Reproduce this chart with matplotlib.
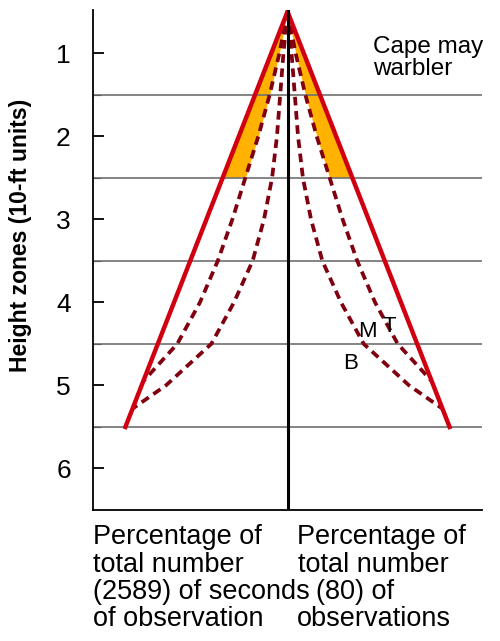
import numpy as np
import matplotlib.pyplot as plt

# height zones (10-ft units), y axis is inverted
zone_ticks = [1, 2, 3, 4, 5, 6]
zone_borders = [1.5, 2.5, 3.5, 4.5, 5.5]

# solid outline (T) : half width at each zone
t_zones = [0.5, 5.5]
t_width = [0.0, 1.0]

# dashed curve M (ends on the outline near zone 5)
m_zones = [0.5, 1.0, 1.5, 2.0, 2.5, 3.0, 3.5, 4.0, 4.5, 4.95]
m_width = [0.0, 0.05, 0.11, 0.18, 0.26, 0.34, 0.43, 0.54, 0.68, 0.89]

# dashed curve B (ends on the outline lower down)
b_zones = [0.5, 1.0, 1.5, 2.0, 2.5, 3.0, 3.5, 4.0, 4.5, 5.0, 5.28]
b_width = [0.0, 0.025, 0.045, 0.065, 0.095, 0.145, 0.215, 0.33, 0.47, 0.75, 0.956]

# orange band between outline and M, above zone 2.5
fill_zones = [0.5, 1.0, 1.5, 2.0, 2.5]

left_lines = ['Percentage of', 'total number', '(2589) of seconds', 'of observation']
right_lines = ['Percentage of', 'total number', '(80) of', 'observations']

red = '#D00010'
dark = '#80000F'
font = 'Liberation Sans'

fig = plt.figure(figsize=(5.0, 6.41), dpi=100)
ax = fig.add_axes([0.186, 0.2044, 0.778, 0.78])

for z in zone_borders:
    ax.axhline(z, color='#707070', lw=1.2, zorder=2)

fz = np.array(fill_zones)
t_at = np.interp(fz, t_zones, t_width)
m_at = np.interp(fz, m_zones, m_width)
for side in (-1, 1):
    ax.fill_betweenx(fz, side * t_at, side * m_at, color='#FFB300', lw=0, zorder=1)

for side in (-1, 1):
    ax.plot([side * w for w in m_width], m_zones, color=dark, lw=2.7,
            ls=(0, (2.3, 1.5)), zorder=3)
    ax.plot([side * w for w in b_width], b_zones, color=dark, lw=2.7,
            ls=(0, (2.3, 1.5)), zorder=3)
ax.plot([-t_width[1], 0, t_width[1]], [t_zones[1], t_zones[0], t_zones[1]],
        color=red, lw=3.2, solid_joinstyle='miter', zorder=4)

ax.axvline(0, color='black', lw=2.2, zorder=5)

ax.text(0.586, 4.36, 'T', fontsize=16, family=font, va='baseline')
ax.text(0.438, 4.42, 'M', fontsize=16, family=font, va='baseline')
ax.text(0.346, 4.80, 'B', fontsize=16, family=font, va='baseline')
ax.text(0.525, 0.79, 'Cape may\nwarbler', fontsize=17.5, family=font,
        va='top', linespacing=1.0)

ax.set_xlim(-1.2, 1.2)
ax.set_ylim(6.5, 0.48)
ax.set_xticks([])
ax.set_yticks(zone_ticks)
ax.set_yticks(zone_borders, minor=True)
ax.tick_params(axis='y', which='major', direction='in', length=8, width=1.3,
               pad=16, labelsize=19)
ax.tick_params(axis='y', which='minor', direction='in', length=6, width=0.8)
for lab in ax.get_yticklabels():
    lab.set_family(font)
for s in ('top', 'right'):
    ax.spines[s].set_visible(False)
for s in ('left', 'bottom'):
    ax.spines[s].set_linewidth(1.3)

ax.set_ylabel('Height zones (10-ft units)', fontsize=16.5, fontweight='bold',
              family=font)
ax.yaxis.set_label_coords(-0.158, 0.55)

# bottom captions, one line at a time
top = 1 - 524 / 641
step = 27.5 / 641
left_x = [93, 93, 93, 93]
right_x = [297, 298, 316, 297]
for i in range(4):
    fig.text(left_x[i] / 500, top - i * step, left_lines[i],
             fontsize=19.5, family=font, va='top')
    fig.text(right_x[i] / 500, top - i * step, right_lines[i],
             fontsize=19.5, family=font, va='top')

fig.savefig('out.png', dpi=100)
